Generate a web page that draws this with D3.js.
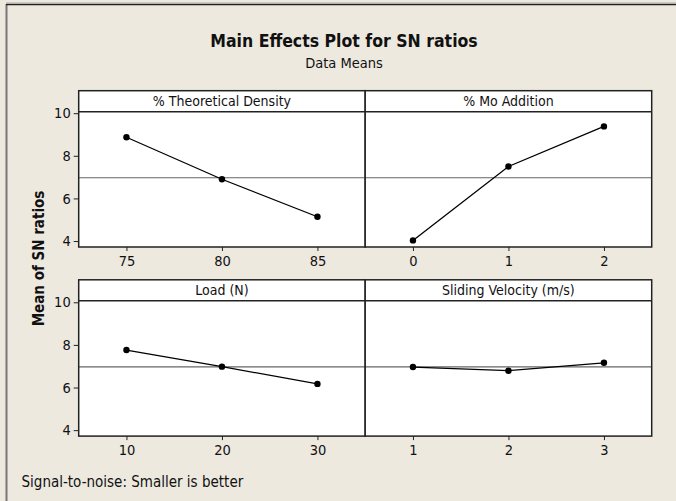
<!DOCTYPE html>
<html lang="en">
<head>
    <meta charset="UTF-8">
    <script src="https://d3js.org/d3.v7.min.js"></script>
    <title>Main Effects Plot for SN ratios</title>
    <style>
        body { margin: 0; background: #ede9df; }
        text { font-family: 'DejaVu Sans Condensed', 'DejaVu Sans', sans-serif; fill: #111; }
        .tick line { stroke: #222; }
        .domain { display: none; }
    </style>
</head>
<body>
<svg height="501" width="676"></svg>
<script>
    const width = 676, height = 501;

    // factor names and levels
    const factors = ["% Theoretical Density", "% Mo Addition", "Load (N)", "Sliding Velocity (m/s)"];
    const levelsTD = ["75", "80", "85"];
    const levelsMo = ["0", "1", "2"];
    const levelsLoad = ["10", "20", "30"];
    const levelsVel = ["1", "2", "3"];

    // mean SN ratios per level
    const snTD = [8.87, 6.90, 5.14];
    const snMo = [4.03, 7.50, 9.38];
    const snLoad = [7.76, 6.98, 6.17];
    const snVel = [6.96, 6.79, 7.16];

    const yTicks = [4, 6, 8, 10];

    const panels = [
        {name: factors[0], levels: levelsTD, values: snTD, col: 0, row: 0},
        {name: factors[1], levels: levelsMo, values: snMo, col: 1, row: 0},
        {name: factors[2], levels: levelsLoad, values: snLoad, col: 0, row: 1},
        {name: factors[3], levels: levelsVel, values: snVel, col: 1, row: 1}
    ];

    const grandMean = d3.mean(snTD);

    const left = 78.7, panelW = 286.5, stripH = 21, plotH = 135.3;
    const rowTop = [90.7, 279.8];

    const svg = d3.select("svg");

    // outer frame (left and top edges only visible)
    svg.append("line").attr("x1", 6.5).attr("x2", 6.5).attr("y1", 4).attr("y2", height)
            .attr("stroke", "#777").attr("stroke-width", 2);
    svg.append("line").attr("x1", 6).attr("x2", width).attr("y1", 4.5).attr("y2", 4.5)
            .attr("stroke", "#222").attr("stroke-width", 1.5);
    svg.append("line").attr("x1", 6).attr("x2", width).attr("y1", 3).attr("y2", 3)
            .attr("stroke", "#aaa").attr("stroke-width", 1);

    svg.append("text").attr("x", 344).attr("y", 47).attr("text-anchor", "middle")
            .style("font-size", "17.5px").style("font-weight", "bold")
            .text("Main Effects Plot for SN ratios");
    svg.append("text").attr("x", 344).attr("y", 68).attr("text-anchor", "middle")
            .style("font-size", "14.5px")
            .text("Data Means");

    panels.forEach(p => drawPanel(p));

    function drawPanel(p) {
        const x0 = left + p.col * panelW;
        const top = rowTop[p.row];
        const plotTop = top + stripH;
        const plotBottom = plotTop + plotH;

        const x = d3.scalePoint().domain(p.levels).range([x0, x0 + panelW]).padding(0.5);
        const y = d3.scaleLinear().domain([3.72, 10.07]).range([plotBottom, plotTop]);

        const g = svg.append("g");

        g.append("rect").attr("x", x0).attr("y", top).attr("width", panelW).attr("height", stripH + plotH)
                .attr("fill", "white");

        // reference line at the grand mean
        g.append("line").attr("x1", x0).attr("x2", x0 + panelW)
                .attr("y1", y(grandMean)).attr("y2", y(grandMean))
                .attr("stroke", "#666").attr("stroke-width", 1.2);

        const line = d3.line().x((d, i) => x(p.levels[i])).y(d => y(d));
        g.append("path").datum(p.values).attr("d", line)
                .attr("fill", "none").attr("stroke", "#000").attr("stroke-width", 1.3);
        g.selectAll("circle").data(p.values).enter().append("circle")
                .attr("cx", (d, i) => x(p.levels[i])).attr("cy", d => y(d)).attr("r", 3.2)
                .attr("fill", "#000");

        // strip
        g.append("line").attr("x1", x0).attr("x2", x0 + panelW).attr("y1", plotTop).attr("y2", plotTop)
                .attr("stroke", "#222").attr("stroke-width", 1.5);
        g.append("text").attr("x", x0 + panelW / 2).attr("y", top + 15.5).attr("text-anchor", "middle")
                .style("font-size", "14px").text(p.name);

        g.append("rect").attr("x", x0).attr("y", top).attr("width", panelW).attr("height", stripH + plotH)
                .attr("fill", "none").attr("stroke", "#222").attr("stroke-width", 1.5);

        const xAxis = g.append("g").attr("transform", `translate(0,${plotBottom})`)
                .call(d3.axisBottom(x).tickSize(4).tickPadding(5));
        xAxis.selectAll("text").style("font-size", "14.5px");

        if (p.col === 0) {
            const yAxis = g.append("g").attr("transform", `translate(${x0},0)`)
                    .call(d3.axisLeft(y).tickValues(yTicks).tickFormat(d3.format("d"))
                            .tickSize(5).tickPadding(3));
            yAxis.selectAll("text").style("font-size", "14.5px");
        }
    }

    svg.append("text").attr("transform", "translate(43.5,258.5) rotate(-90)")
            .attr("text-anchor", "middle")
            .style("font-size", "15px").style("font-weight", "bold")
            .text("Mean of SN ratios");

    svg.append("text").attr("x", 21.5).attr("y", 487)
            .style("font-size", "15px")
            .text("Signal-to-noise: Smaller is better");
</script>
</body>
</html>
